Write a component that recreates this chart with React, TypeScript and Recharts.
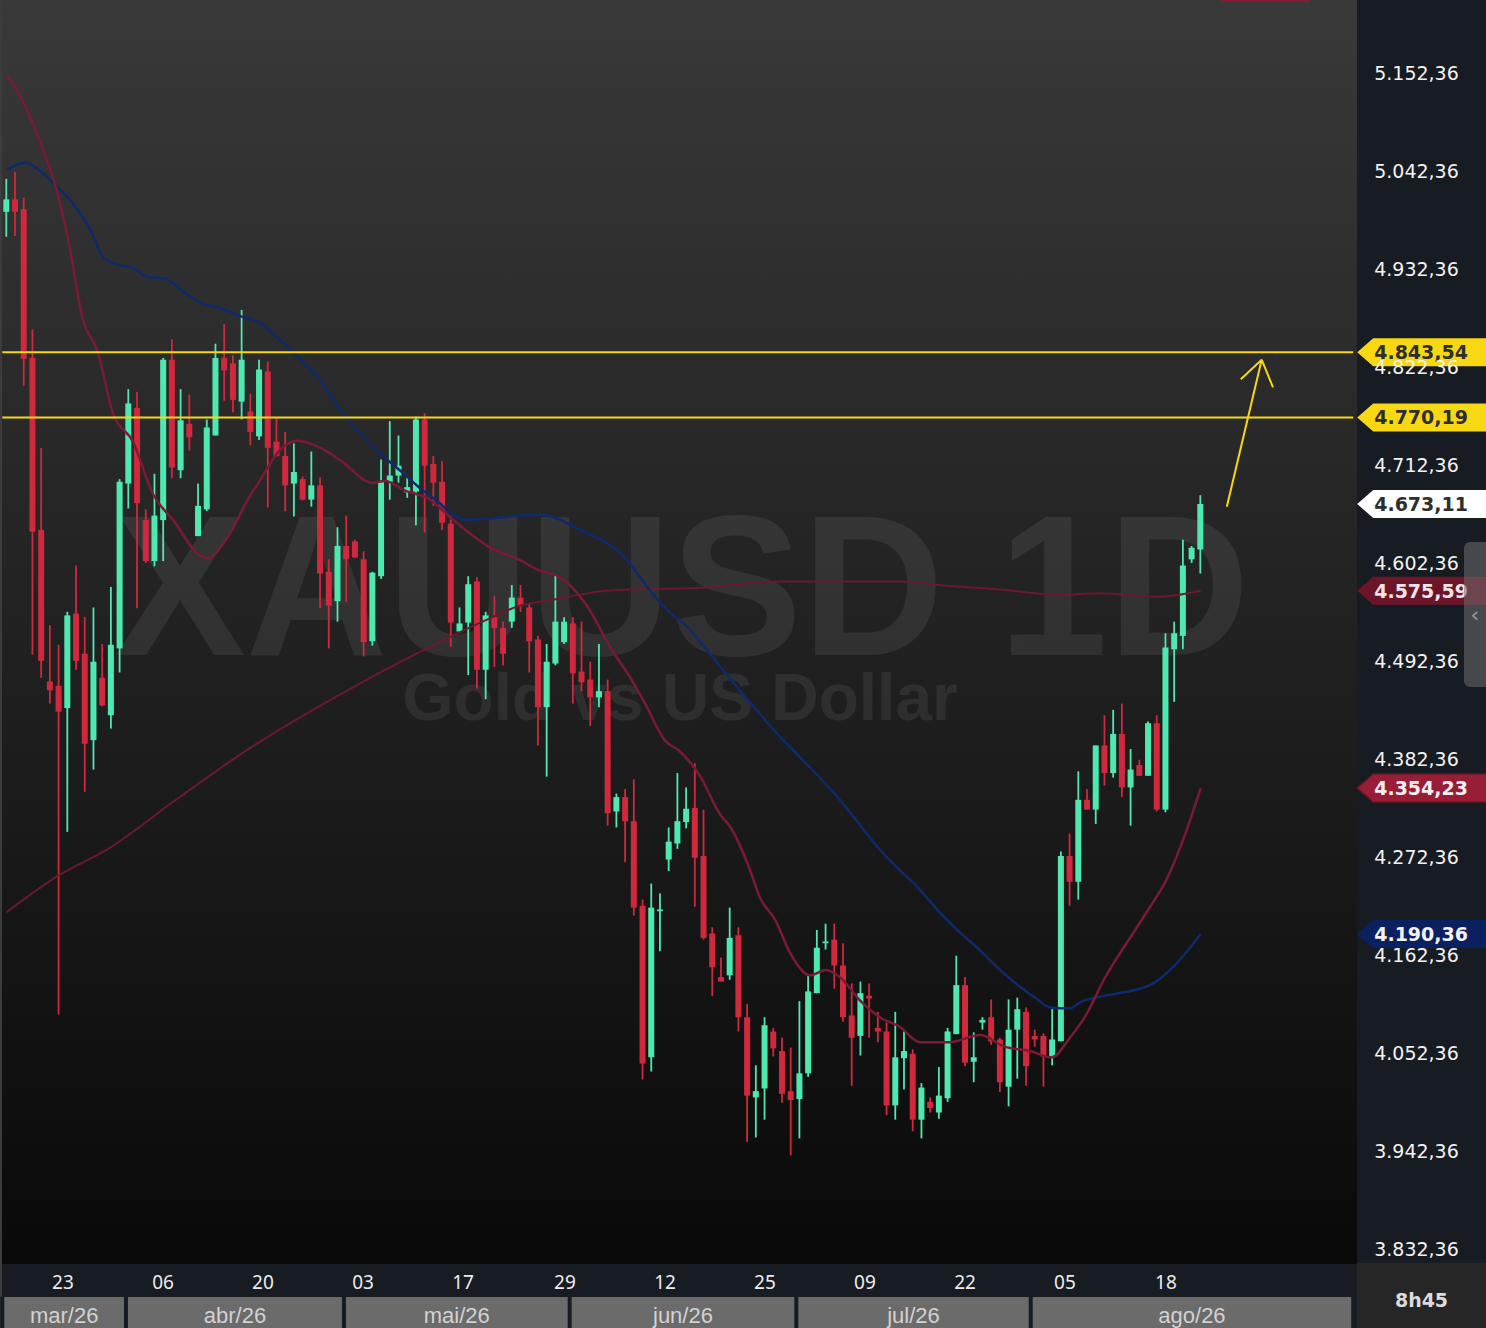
import { ComposedChart, Bar, Line, XAxis, YAxis, ReferenceLine } from 'recharts';

// daily candles, oldest first
const open = [
  5001, 5015, 5004, 4837, 4644, 4474, 4469, 4444, 4550, 4505,
  4408, 4478, 4436, 4511, 4696, 4781, 4655, 4609, 4655, 4835,
  4711, 4763, 4637, 4667, 4750, 4837, 4831, 4788, 4777, 4749,
  4822, 4743, 4727, 4696, 4701, 4678, 4694, 4597, 4564, 4626,
  4631, 4611, 4519, 4592, 4698, 4705, 4686, 4687, 4768, 4718,
  4698, 4651, 4530, 4540, 4586, 4487, 4546, 4534, 4541, 4568,
  4557, 4521, 4445, 4494, 4518, 4539, 4485, 4476, 4456, 4463,
  4328, 4344, 4317, 4222, 4052, 4216, 4274, 4292, 4316, 4332,
  4278, 4191, 4142, 4144, 4189, 4097, 4007, 4017, 4081, 4059,
  4014, 4005, 4034, 4124, 4180, 4184, 4155, 4099, 4076, 4121,
  4085, 4081, 3998, 4051, 4056, 3982, 4002, 3990, 4006, 4078,
  4133, 4047, 4091, 4097, 4072, 4019, 4083, 4103, 4076, 4076,
  4053, 4070, 4278, 4249, 4341, 4330, 4402, 4371, 4415, 4355,
  4380, 4368, 4427, 4330, 4510, 4525, 4611, 4622,
];
const high = [
  5038, 5046, 5017, 4869, 4736, 4537, 4515, 4552, 4604, 4546,
  4557, 4516, 4580, 4701, 4802, 4799, 4667, 4707, 4837, 4858,
  4802, 4796, 4696, 4768, 4853, 4875, 4840, 4891, 4797, 4835,
  4833, 4770, 4754, 4741, 4704, 4732, 4703, 4611, 4647, 4660,
  4633, 4620, 4597, 4723, 4766, 4750, 4703, 4771, 4775, 4727,
  4721, 4659, 4557, 4592, 4591, 4552, 4570, 4541, 4582, 4582,
  4561, 4525, 4516, 4594, 4546, 4546, 4541, 4496, 4516, 4476,
  4348, 4353, 4364, 4229, 4247, 4236, 4310, 4371, 4355, 4382,
  4330, 4198, 4164, 4220, 4198, 4112, 4043, 4097, 4085, 4074,
  4063, 4115, 4144, 4195, 4202, 4202, 4180, 4135, 4137, 4135,
  4103, 4091, 4103, 4081, 4061, 4023, 4007, 4041, 4085, 4166,
  4142, 4080, 4097, 4117, 4074, 4117, 4119, 4108, 4083, 4079,
  4106, 4283, 4303, 4373, 4353, 4402, 4436, 4442, 4449, 4398,
  4386, 4429, 4436, 4528, 4541, 4633, 4626, 4683,
];
const low = [
  4973, 4974, 4806, 4504, 4478, 4449, 4100, 4305, 4487, 4350,
  4375, 4446, 4421, 4484, 4668, 4556, 4607, 4603, 4609, 4702,
  4702, 4733, 4637, 4665, 4750, 4789, 4776, 4768, 4739, 4745,
  4669, 4726, 4665, 4659, 4677, 4670, 4556, 4511, 4541, 4563,
  4613, 4502, 4514, 4589, 4678, 4697, 4680, 4649, 4641, 4671,
  4644, 4513, 4530, 4481, 4466, 4454, 4490, 4492, 4534, 4552,
  4484, 4402, 4367, 4492, 4516, 4449, 4463, 4424, 4445, 4312,
  4310, 4271, 4211, 4027, 4036, 4171, 4261, 4286, 4309, 4221,
  4184, 4121, 4137, 4139, 4081, 3957, 3962, 3982, 4053, 4001,
  3942, 3961, 4030, 4124, 4173, 4129, 4092, 4020, 4054, 4074,
  4069, 3987, 3982, 4016, 3969, 3961, 3990, 3983, 4002, 4078,
  4042, 4024, 4083, 4066, 4013, 3997, 4028, 4020, 4064, 4019,
  4043, 4070, 4222, 4229, 4330, 4314, 4357, 4366, 4344, 4312,
  4368, 4368, 4328, 4327, 4451, 4510, 4607, 4595,
];
const close = [
  5015, 5001, 4836, 4642, 4497, 4464, 4440, 4548, 4497, 4404,
  4496, 4447, 4515, 4698, 4786, 4674, 4609, 4660, 4835, 4714,
  4767, 4748, 4671, 4759, 4837, 4823, 4790, 4835, 4754, 4824,
  4736, 4727, 4694, 4709, 4678, 4694, 4595, 4559, 4626, 4611,
  4613, 4518, 4596, 4698, 4705, 4716, 4692, 4768, 4716, 4697,
  4652, 4540, 4539, 4583, 4487, 4548, 4534, 4505, 4568, 4559,
  4519, 4445, 4496, 4541, 4541, 4483, 4473, 4456, 4463, 4326,
  4344, 4317, 4220, 4045, 4220, 4218, 4294, 4317, 4331, 4276,
  4186, 4153, 4137, 4186, 4097, 4009, 4014, 4088, 4062, 4011,
  4004, 4034, 4126, 4175, 4182, 4155, 4097, 4074, 4124, 4118,
  4081, 3998, 4052, 4059, 3982, 4018, 3995, 4009, 4081, 4133,
  4046, 4052, 4094, 4070, 4024, 4083, 4106, 4042, 4072, 4053,
  4072, 4278, 4249, 4341, 4330, 4402, 4371, 4415, 4355, 4375,
  4368, 4427, 4330, 4512, 4528, 4604, 4624, 4673.11,
];

// moving averages: [candle index, price]
const maShort = [
  [0, 5155], [1.5, 5132], [4.2, 5070], [5.3, 5040], [7.0, 4973], [8.75, 4880], [10.4, 4845],
  [12.2, 4775], [14.5, 4743], [16.8, 4684], [19.1, 4655], [22.2, 4615], [23.0, 4612],
  [25.3, 4635], [27.9, 4682], [29.1, 4700], [31.4, 4734], [33.4, 4744], [36.0, 4736],
  [38.3, 4722], [42.0, 4697], [43.4, 4699], [45.7, 4688], [48.6, 4678], [50.9, 4658],
  [55.5, 4624], [58.9, 4610], [61.2, 4598], [63.1, 4593], [66.9, 4554], [69.2, 4513],
  [71.5, 4479], [73.2, 4450], [75.5, 4408], [77.3, 4395], [79.6, 4367], [81.9, 4324],
  [83.0, 4311], [85.3, 4262], [86.4, 4232], [88.2, 4206], [89.9, 4169], [92.2, 4144],
  [94.0, 4150], [95.6, 4142], [97.9, 4116], [100.2, 4097], [102.5, 4086], [104.8, 4069],
  [108.2, 4069], [111.7, 4077], [114.5, 4064], [117.4, 4059], [119.9, 4052], [122.0, 4074],
  [123.7, 4097], [126.0, 4141], [129.5, 4195], [131.2, 4221], [132.9, 4248], [135.2, 4302],
  [137, 4354.23],
];
const maMid = [
  [0, 5048], [2.1, 5056], [4.4, 5042], [6.1, 5026], [7.8, 5008], [9.6, 4981], [11.1, 4950],
  [13.0, 4941], [14.5, 4938], [16.2, 4928], [18.2, 4926], [20.5, 4910], [22.2, 4899],
  [24.5, 4893], [26.8, 4884], [29.1, 4876], [31.4, 4857], [33.7, 4835], [36.0, 4812],
  [38.3, 4779], [40.5, 4753], [42.8, 4730], [45.1, 4711], [47.4, 4691], [49.7, 4674],
  [50.9, 4663], [52.8, 4655], [55.5, 4657], [61.2, 4661], [65.8, 4644], [71.2, 4610],
  [73.5, 4580], [75.8, 4554], [78.1, 4535], [79.6, 4518], [84.1, 4464], [89.1, 4408],
  [91.0, 4389], [93.3, 4366], [95.6, 4341], [97.9, 4313], [100.2, 4285], [102.5, 4262],
  [104.8, 4240], [107.1, 4214], [109.4, 4192], [111.7, 4172], [114.0, 4150], [116.3, 4131],
  [118.0, 4119], [119.7, 4108], [122.0, 4107], [123.2, 4114], [125.5, 4120], [131.2, 4133],
  [134.1, 4156], [137, 4190.36],
];
const maLong = [
  [0, 4215], [6.1, 4257], [11.5, 4285], [19.7, 4343], [27.9, 4399], [37.1, 4453],
  [47.8, 4509], [55.5, 4545], [58.9, 4559], [62.3, 4565], [69.2, 4576], [79.6, 4579],
  [88.7, 4586], [102.5, 4586], [108.2, 4581], [114.0, 4577], [120.9, 4571], [125.5, 4573],
  [132.3, 4569], [137, 4575.59],
];

const dayTicks = [6.46, 17.94, 29.41, 40.89, 52.36, 64.06, 75.54, 87.01, 98.48, 109.96, 121.43, 133.02];
const dayLabels = ['23', '06', '20', '03', '17', '29', '12', '25', '09', '22', '05', '18'];
const monthLabels = ['mar/26', 'abr/26', 'mai/26', 'jun/26', 'jul/26', 'ago/26'];
const monthEdges = [-0.5, 13.69, 38.7, 64.6, 90.6, 117.5, 154.5];
const priceTicks = [
  5152.36, 5042.36, 4932.36, 4822.36, 4712.36, 4602.36, 4492.36,
  4382.36, 4272.36, 4162.36, 4052.36, 3942.36, 3832.36,
];
const levels = [4843.54, 4770.19];
const lastClose = 4673.11;
const arrowShaft = [[140.0, 4670], [144.0, 4835]];
const arrowLeft = [[141.6, 4813], [144.0, 4835]];
const arrowRight = [[145.3, 4804], [144.0, 4835]];

const SLOTS = 155; // candles + empty space to the right
const Y_DOMAIN = [3821.1, 5238.8];
const X_DOMAIN = [-0.5, SLOTS - 0.5];

const GREEN = '#4de9b0';
const RED = '#d0283c';
const YELLOW = '#f8d812';
const PANEL = '#171b22';

const fmt = (v: number) => {
  const [i, d] = v.toFixed(2).split('.');
  return i.replace(/\B(?=(\d{3})+(?!\d))/g, '.') + ',' + d;
};

const candles = Array.from({ length: SLOTS }, (_, i) =>
  i < open.length
    ? { i, o: open[i], h: high[i], l: low[i], c: close[i], range: [low[i], high[i]] }
    : { i, range: null }
);
const toPts = (arr: number[][]) => arr.map(([i, v]) => ({ i, v }));
const seg = (arr: number[][]) => arr.map(([x, y]) => ({ x, y }));
const monthMids = monthLabels.map((_, k) => (monthEdges[k] + monthEdges[k + 1]) / 2);
const axisTicks = [...dayTicks, ...monthEdges, ...monthMids];

const Candle = (props: any) => {
  const { x, y, width, height, payload } = props;
  if (!payload || payload.o == null || !Number.isFinite(y)) return null;
  const top = Math.min(y, y + height);
  const k = Math.abs(height) / (payload.h - payload.l);
  const toY = (v: number) => top + (payload.h - v) * k;
  const color = payload.c >= payload.o ? GREEN : RED;
  const cx = x + width / 2;
  const bTop = toY(Math.max(payload.o, payload.c));
  const bBot = toY(Math.min(payload.o, payload.c));
  return (
    <g>
      <rect x={cx - 0.9} y={top} width={1.8} height={Math.abs(height)} fill={color} />
      <rect x={cx - 3} y={bTop} width={6} height={Math.max(1.5, bBot - bTop)} fill={color} />
    </g>
  );
};

const PriceTick = ({ x, y, payload }: any) => (
  <text x={x} y={y + 3} fill="#f2f2f2" fontSize={19} fontFamily="DejaVu Sans" textAnchor="start">
    {fmt(payload.value)}
  </text>
);

// one axis carries the day ticks, the month separators and the month names
const TimeTick = ({ x, y, payload }: any) => {
  const v = payload.value;
  const d = dayTicks.indexOf(v);
  if (d >= 0) {
    return (
      <text x={x} y={y + 26} fill="#ececec" fontSize={19} fontFamily="Noto Sans" textAnchor="middle">
        {dayLabels[d]}
      </text>
    );
  }
  if (monthEdges.indexOf(v) >= 0) {
    return <rect x={x - 2} y={y + 34} width={4} height={31} fill={PANEL} />;
  }
  const m = monthMids.indexOf(v);
  if (m >= 0) {
    return (
      <text x={x} y={y + 60} fill="#d2d2d2" fontSize={22} fontFamily="Liberation Sans" textAnchor="middle">
        {monthLabels[m]}
      </text>
    );
  }
  return null;
};

const tag = (text: string, bg: string, fg: string, edge = 'none') => (props: any) => {
  const vb = props.viewBox || {};
  const tip = (vb.x || 0) + (vb.width || 0) + 4;
  const cy = vb.y || 0;
  return (
    <g>
      <polygon
        points={`${tip},${cy} ${tip + 16},${cy - 14} ${tip + 140},${cy - 14} ${tip + 140},${cy + 14} ${tip + 16},${cy + 14}`}
        fill={bg}
        stroke={edge}
        strokeWidth={1.5}
      />
      <text x={tip + 17} y={cy + 7} fill={fg} fontSize={19} fontWeight={700} fontFamily="DejaVu Sans">
        {text}
      </text>
    </g>
  );
};

export default function App() {
  return (
    <div style={{ position: 'relative', width: 1486, height: 1328, background: PANEL, overflow: 'hidden' }}>
      <style>{'body{margin:0;background:#0b0b0b}'}</style>

      {/* plot background */}
      <div style={{ position: 'absolute', left: 0, top: 0, width: 1357, height: 1264, background: 'linear-gradient(#393939, #212121 50%, #090909)' }} />
      <div style={{ position: 'absolute', left: 4, top: 1297, width: 1350, height: 31, background: '#6b6b6b' }} />
      <div style={{ position: 'absolute', left: 0, top: 0, width: 2, height: 1328, background: '#3c3c3c' }} />
      <div style={{ position: 'absolute', left: 1222, top: 0, width: 88, height: 2, background: '#8a1a30' }} />
      <div style={{ position: 'absolute', left: 1357, top: 1263, width: 129, height: 65, boxSizing: 'border-box', paddingTop: 8, background: '#262626', color: '#dcdcdc', font: '700 19px "DejaVu Sans"', display: 'flex', alignItems: 'center', justifyContent: 'center' }}>
        8h45
      </div>

      {/* watermark */}
      <svg width={1357} height={1263} style={{ position: 'absolute', left: 0, top: 0 }}>
        <text x={682} y={655} textAnchor="middle" fontSize={200} fontWeight={700} fontFamily="Liberation Sans" fill="rgba(255,255,255,0.075)" textLength={1135} lengthAdjust="spacingAndGlyphs">
          XAUUSD 1D
        </text>
        <text x={680} y={720} textAnchor="middle" fontSize={67} fontWeight={700} fontFamily="Liberation Sans" fill="rgba(255,255,255,0.075)" textLength={555} lengthAdjust="spacingAndGlyphs">
          Gold vs US Dollar
        </text>
      </svg>

      <div style={{ position: 'absolute', left: 0, top: 0 }}>
        <ComposedChart width={1486} height={1328} data={candles} margin={{ top: 0, right: 0, bottom: 0, left: 2.3 }}>
          <XAxis xAxisId="c" dataKey="i" type="category" orientation="top" hide />
          <XAxis
            xAxisId="t"
            dataKey="i"
            type="number"
            domain={X_DOMAIN}
            allowDataOverflow
            ticks={axisTicks}
            tick={<TimeTick />}
            tickLine={false}
            axisLine={false}
            tickSize={0}
            tickMargin={0}
            height={65}
            interval={0}
          />
          <YAxis
            orientation="right"
            width={132.8}
            domain={Y_DOMAIN}
            allowDataOverflow
            ticks={priceTicks}
            tick={<PriceTick />}
            tickLine={false}
            axisLine={false}
            tickSize={0}
            tickMargin={21}
            interval={0}
          />
          <Line xAxisId="t" data={toPts(maLong)} dataKey="v" type="monotone" stroke="#6a1a2e" strokeWidth={2} dot={false} isAnimationActive={false} />
          <Line xAxisId="t" data={toPts(maMid)} dataKey="v" type="monotone" stroke="#0e2a6c" strokeWidth={2.5} dot={false} isAnimationActive={false} />
          <Line xAxisId="t" data={toPts(maShort)} dataKey="v" type="monotone" stroke="#7a1b35" strokeWidth={2.5} dot={false} isAnimationActive={false} />
          <Bar xAxisId="c" dataKey="range" barSize={6} shape={<Candle />} isAnimationActive={false} />

          {levels.map((v) => (
            <ReferenceLine key={v} xAxisId="t" y={v} stroke={YELLOW} strokeWidth={2} label={tag(fmt(v), YELLOW, '#2e2e2e')} />
          ))}
          <ReferenceLine xAxisId="t" y={lastClose} stroke="none" label={tag(fmt(lastClose), '#ffffff', '#2e2e2e')} />
          <ReferenceLine xAxisId="t" y={maLong[maLong.length - 1][1]} stroke="none" label={tag(fmt(maLong[maLong.length - 1][1]), '#6c1529', '#f0e4e6')} />
          <ReferenceLine xAxisId="t" y={maShort[maShort.length - 1][1]} stroke="none" label={tag(fmt(maShort[maShort.length - 1][1]), '#981d36', '#f4eef0', '#6e1426')} />
          <ReferenceLine xAxisId="t" y={maMid[maMid.length - 1][1]} stroke="none" label={tag(fmt(maMid[maMid.length - 1][1]), '#0b2060', '#f2f2f2')} />

          <ReferenceLine xAxisId="t" segment={seg(arrowShaft)} stroke={YELLOW} strokeWidth={2} ifOverflow="visible" />
          <ReferenceLine xAxisId="t" segment={seg(arrowLeft)} stroke={YELLOW} strokeWidth={2} ifOverflow="visible" />
          <ReferenceLine xAxisId="t" segment={seg(arrowRight)} stroke={YELLOW} strokeWidth={2} ifOverflow="visible" />
        </ComposedChart>
      </div>

      {/* collapse tab */}
      <div style={{ position: 'absolute', left: 1464, top: 542, width: 22, height: 145, background: 'rgba(110,110,110,0.55)', borderRadius: '6px 0 0 6px', color: '#9a9a9a', font: '22px "DejaVu Sans"', display: 'flex', alignItems: 'center', justifyContent: 'center' }}>
        ‹
      </div>
    </div>
  );
}
